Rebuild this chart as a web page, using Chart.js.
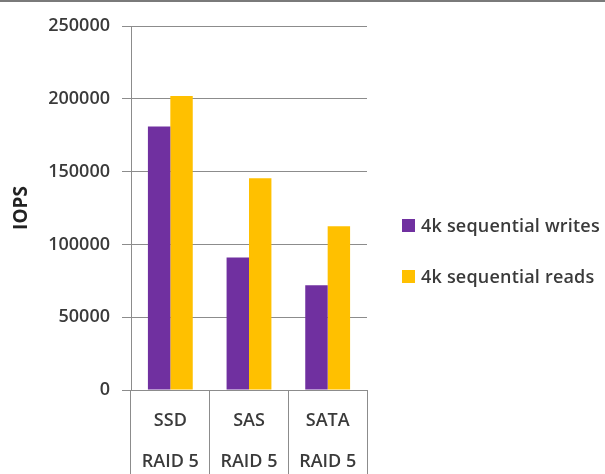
<!DOCTYPE html>
<html>
<head>
<meta charset="utf-8">
<script src="https://cdn.jsdelivr.net/npm/chart.js@4"></script>
<style>
  html, body { margin: 0; padding: 0; background: #fff; }
  #wrap { position: relative; width: 605px; height: 474px; box-sizing: border-box; border-top: 2px solid #7a7a7a; }
  #wrap canvas { position: absolute; left: 0; top: 0; }
  #legend { position: absolute; left: 402px; top: 0; font-family: "Open Sans", sans-serif; font-size: 18px; font-weight: 600; letter-spacing: 0.2px; color: #3a3a3a; }
  #legend .item { position: absolute; left: 0; white-space: nowrap; display: flex; align-items: center; }
  #legend .box { width: 13px; height: 13px; margin-right: 6px; }
</style>
</head>
<body>
<div id="wrap">
  <canvas id="chart" width="605" height="474"></canvas>
  <div id="legend"></div>
</div>
<script>
const categories = [['SSD', 'RAID 5'], ['SAS', 'RAID 5'], ['SATA', 'RAID 5']];
const seriesNames = ['4k sequential writes', '4k sequential reads'];
const writes = [181000, 91000, 72000];
const reads = [202000, 145500, 112500];
const yTicks = [0, 50000, 100000, 150000, 200000, 250000];

const colors = ['#7030a0', '#ffc000'];
const gridColor = '#8c8c8c';
const textColor = '#3a3a3a';
const font = { family: '"Open Sans", sans-serif', size: 18, weight: '600' };

// legend built as html next to the plot
const legend = document.getElementById('legend');
seriesNames.forEach((name, i) => {
  const item = document.createElement('div');
  item.className = 'item';
  item.style.top = (i === 0 ? 211 : 262) + 'px';
  item.innerHTML = `<span class="box" style="background:${colors[i]}"></span><span>${name}</span>`;
  legend.appendChild(item);
});

new Chart(document.getElementById('chart').getContext('2d'), {
  type: 'bar',
  data: {
    labels: categories,
    datasets: [
      { label: seriesNames[0], data: writes, backgroundColor: colors[0] },
      { label: seriesNames[1], data: reads, backgroundColor: colors[1] }
    ]
  },
  options: {
    responsive: false,
    animation: false,
    events: [],
    layout: { padding: { top: 24, right: 238, left: 0, bottom: 0 } },
    plugins: { legend: { display: false }, tooltip: { enabled: false } },
    datasets: { bar: { barPercentage: 1, categoryPercentage: 0.57 } },
    scales: {
      x: {
        grid: { offset: true, drawOnChartArea: false, color: gridColor, tickLength: 86 },
        border: { color: gridColor },
        ticks: { color: textColor, font: { ...font, lineHeight: 2.28 }, padding: -76, maxRotation: 0 },
        afterFit: (s) => { s.height = 86; s.paddingLeft = 0; s.paddingRight = 0; }
      },
      y: {
        min: 0,
        max: 250000,
        afterBuildTicks: (s) => { s.ticks = yTicks.map(v => ({ value: v })); },
        grid: { color: gridColor, tickLength: 9 },
        border: { color: gridColor },
        ticks: { color: textColor, font: font, padding: 12, callback: (v) => String(v) },
        title: { display: true, text: 'IOPS', color: '#222', font: { ...font, size: 19, weight: 'bold' }, padding: { top: 10, bottom: 4 } },
        afterFit: (s) => { s.width = 131; s.paddingTop = 0; s.paddingBottom = 0; }
      }
    }
  }
});
</script>
</body>
</html>
